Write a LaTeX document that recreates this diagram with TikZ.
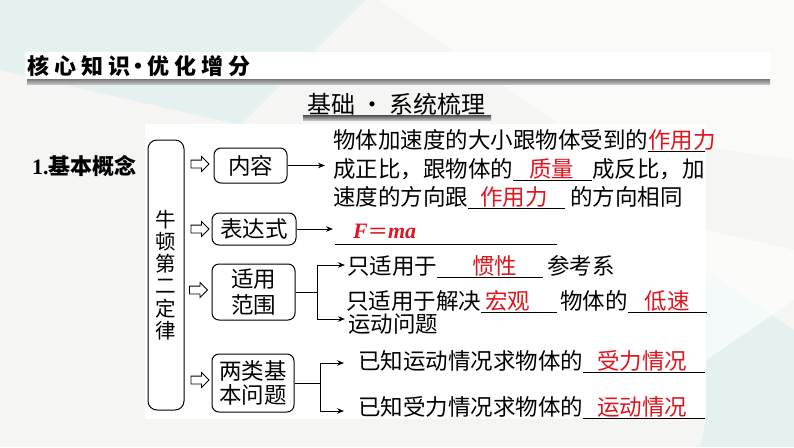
\documentclass[tikz,border=0pt]{standalone}
\usepackage{fontspec}
\setmainfont{Noto Sans CJK SC}
\newfontfamily\tnr{Liberation Serif}
\usetikzlibrary{arrows.meta,shapes.arrows}
\definecolor{ansred}{RGB}{222,22,30}
\definecolor{bgray}{RGB}{245,246,244}
\definecolor{bcyan}{RGB}{226,239,240}
\newcommand\blk[3]{\rlap{\raisebox{-3.6pt}{\rule{#1}{0.9pt}}}\rlap{\hspace{#2}\textcolor{ansred}{#3}}\hspace{#1}}
\begin{document}
\begin{tikzpicture}[x=1pt,y=-1pt,
  txt/.style={anchor=base west, inner sep=0pt, font=\fontsize{22.5pt}{27pt}\selectfont},
  box/.style={draw, line width=1pt, rounded corners=7pt, align=center, inner sep=0pt, font=\fontsize{22.5pt}{26pt}\selectfont},
  arr/.style={line width=1pt, -{Stealth[length=7pt,width=5.5pt]}},
  conn/.style={line width=1pt},
  oarr/.style={single arrow, draw, line width=0.9pt, fill=white, inner sep=0pt, text width=0pt,
     text height=3.5pt, text depth=3.5pt, minimum height=18pt, single arrow head extend=3.5pt,
     single arrow head indent=0pt}]
\useasboundingbox (0,0) rectangle (794,447);
% background
\fill[bgray] (0,0) rectangle (794,447);
\fill[bcyan, opacity=0.8] (20,0) -- (365,0) -- (240,125) -- (0,70) -- (0,0) -- cycle;
\fill[white, opacity=0.5] (380,0) -- (794,0) -- (794,160) -- (560,125) -- cycle;
\fill[bcyan, opacity=0.8] (706,270) -- (794,330) -- (794,447) -- (700,447) -- (706,420) -- cycle;
\fill[white, opacity=0.6] (706,360) -- (794,300) -- (794,250) -- (706,230) -- cycle;
% panels
\fill[white] (25,52) rectangle (770,79);
\shade[top color=black!50, bottom color=black!22] (27,79.5) rectangle (770,84.5);
\fill[white] (145,124) rectangle (706,419);
\shade[top color=black!70, bottom color=black!20] (303,115) rectangle (491,120.5);
% titles
\node[anchor=base west, inner sep=0pt, font=\fontsize{22pt}{24pt}\selectfont\bfseries] (title) at (27,74)
  {核\hspace{5pt}心\hspace{5pt}知\hspace{5pt}识\makebox[17pt]{·}优\hspace{5pt}化\hspace{5pt}增\hspace{5pt}分};
\node[anchor=base west, inner sep=0pt, font=\fontsize{24pt}{26pt}\selectfont] (sub) at (307,113)
  {基础\hspace{5pt}・\hspace{5pt}系统梳理};
\node[anchor=base west, inner sep=0pt, font=\fontsize{22pt}{24pt}\selectfont\bfseries] (jb) at (32,174.5)
  {{\tnr\bfseries 1.}基本概念};
% main tall box
\node[box, rounded corners=9pt, minimum width=36pt, minimum height=270pt, font=\fontsize{20.5pt}{22.2pt}\selectfont] (nd) at (166,275)
  {牛\\顿\\第\\二\\定\\律};
% open arrows
\node[oarr] (oa1) at (198,164) {};
\node[oarr] (oa2) at (198,229) {};
\node[oarr] (oa3) at (196.5,290) {};
\node[oarr] (oa4) at (198,380) {};
% second level boxes
\node[box, minimum width=73pt, minimum height=35pt] (nr) at (250.5,165.5) {内容};
\node[box, minimum width=84pt, minimum height=32pt] (bds) at (254,229) {表达式};
\node[box, minimum width=83pt, minimum height=56pt, font=\fontsize{22.5pt}{26.5pt}\selectfont] (syfw) at (253.5,292) {适用\\范围};
\node[box, minimum width=82pt, minimum height=58pt, font=\fontsize{22.5pt}{24.5pt}\selectfont] (lljb) at (253,383) {两类基\\本问题};
% content text
\node[txt] (c1) at (333,148.5) {物体加速度的大小跟物体受到的\blk{57pt}{0pt}{作用力}};
\node[txt] (c2) at (333,177.5) {成正比，跟物体的\blk{79pt}{16pt}{质量}成反比，加};
\node[txt] (c3) at (333,205.5) {速度的方向跟\blk{97pt}{12pt}{作用力}\hspace{5pt}的方向相同};
\coordinate (c1a) at (325,164);
\draw[arr] (nr.east) -- (nr.east -| c1a);
% expression
\node[anchor=base west, inner sep=0pt, text=ansred, font=\fontsize{22pt}{24pt}\selectfont\tnr\bfseries\itshape] (fma) at (353,238.5)
  {F\hspace{1pt}{\upshape\scalebox{1.45}[1]{=}}\hspace{1pt}ma};
\coordinate (fmaa) at (333,230);
\draw[arr] (bds.east) -- (bds.east -| fmaa);
\coordinate (ul1) at (335,244);
\coordinate (ul2) at (557,244);
\draw[line width=0.9pt] (ul1) -- (ul2);
% scope of application
\node[txt] (r1) at (347,274) {只适用于\blk{106pt}{35pt}{惯性}\hspace{4pt}参考系};
\node[txt] (r2) at (346,309) {只适用于解决\blk{76pt}{4pt}{宏观}\hspace{3pt}物体的\blk{79pt}{17pt}{低速}};
\node[txt] (r3) at (348,332) {运动问题};
\coordinate (j1) at (317,292);
\coordinate (t1) at (345,265);
\coordinate (t2) at (345,319);
\draw[conn] (syfw.east) -- (j1);
\draw[arr] (j1) |- (t1);
\draw[arr] (j1) |- (t2);
% two problems
\node[txt] (k1) at (358,369.5) {已知运动情况求物体的\blk{122pt}{14pt}{受力情况}};
\node[txt] (k2) at (358,415.5) {已知受力情况求物体的\blk{122pt}{14pt}{运动情况}};
\coordinate (j2) at (320,383);
\coordinate (s1) at (344,363);
\coordinate (s2) at (344,411);
\draw[conn] (lljb.east) -- (j2);
\draw[arr] (j2) |- (s1);
\draw[arr] (j2) |- (s2);
\end{tikzpicture}
\end{document}
